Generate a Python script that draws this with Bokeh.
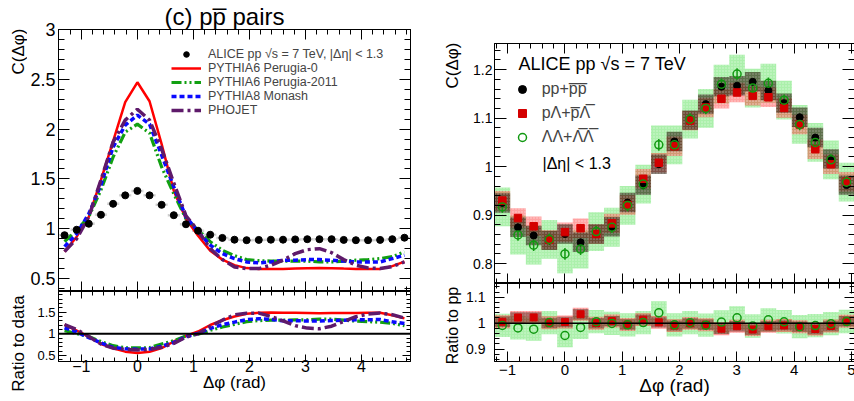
import math
from bokeh.plotting import figure
from bokeh.layouts import row, column
from bokeh.models import (Range1d, LinearAxis, Label, Legend, LegendItem, Span, Title,
                          SingleIntervalTicker, CustomJSTickFormatter)
from bokeh.embed import file_html
from bokeh.resources import INLINE

FONT = "Liberation Sans"

# ---------------- left panel: (c) p-pbar pairs, data vs models ----------------
dphi_left = [-1.300, -1.083, -0.867, -0.650, -0.433, -0.217, 0.000, 0.217, 0.433,
             0.650, 0.867, 1.083, 1.300, 1.517, 1.733, 1.950, 2.167, 2.383, 2.600,
             2.817, 3.033, 3.250, 3.467, 3.683, 3.900, 4.117, 4.333, 4.550, 4.767]
alice_data = [0.935, 0.99, 1.05, 1.14, 1.25, 1.335, 1.38, 1.335, 1.24, 1.136, 1.045,
              0.98, 0.94, 0.908, 0.89, 0.885, 0.888, 0.89, 0.89, 0.893, 0.895, 0.895,
              0.895, 0.888, 0.885, 0.885, 0.888, 0.895, 0.91]
pythia6_perugia0 = [0.77, 0.92, 1.12, 1.49, 1.88, 2.27, 2.47, 2.28, 1.85, 1.38, 1.10,
                    0.93, 0.78, 0.69, 0.635, 0.605, 0.597, 0.595, 0.597, 0.60, 0.603,
                    0.605, 0.603, 0.60, 0.597, 0.595, 0.597, 0.625, 0.67]
pythia6_perugia2011 = [0.87, 0.985, 1.12, 1.39, 1.72, 1.97, 2.05, 1.96, 1.62, 1.35, 1.10,
                       0.99, 0.87, 0.784, 0.73, 0.69, 0.68, 0.675, 0.675, 0.675, 0.675,
                       0.667, 0.667, 0.675, 0.684, 0.69, 0.70, 0.72, 0.767]
pythia8_monash = [0.82, 0.95, 1.15, 1.44, 1.82, 2.04, 2.14, 2.05, 1.74, 1.42, 1.12,
                  0.97, 0.835, 0.75, 0.70, 0.667, 0.657, 0.667, 0.684, 0.684, 0.69,
                  0.69, 0.684, 0.675, 0.667, 0.667, 0.667, 0.70, 0.734]
phojet = [0.77, 0.90, 1.12, 1.49, 1.87, 2.09, 2.20, 2.09, 1.80, 1.46, 1.13, 0.98, 0.80,
          0.69, 0.617, 0.60, 0.60, 0.634, 0.684, 0.75, 0.79, 0.80, 0.76, 0.69, 0.634,
          0.607, 0.60, 0.62, 0.667]

# ---------------- right panel: baryon-baryon pairs ----------------
dphi_right = [-1.093, -0.820, -0.546, -0.273, 0.000, 0.273, 0.546, 0.820, 1.093, 1.366,
              1.639, 1.912, 2.185, 2.459, 2.732, 3.005, 3.278, 3.551, 3.825, 4.098,
              4.371, 4.644, 4.917]
c_pp = [0.925, 0.875, 0.858, 0.848, 0.861, 0.844, 0.861, 0.876, 0.926, 0.962, 1.005,
        1.052, 1.096, 1.129, 1.165, 1.167, 1.175, 1.157, 1.131, 1.102, 1.06, 1.016, 0.962]
c_pLambda = [0.93, 0.894, 0.877, 0.849, 0.865, 0.873, 0.861, 0.883, 0.921, 0.975, 1.008,
             1.042, 1.095, 1.122, 1.14, 1.153, 1.146, 1.143, 1.121, 1.087, 1.036, 1.005, 0.969]
c_LambdaLambda = [0.917, 0.859, 0.838, 0.85, 0.82, 0.83, 0.866, 0.875, 0.92, 0.964, 1.045,
                  1.045, 1.098, 1.12, 1.17, 1.191, 1.162, 1.172, 1.137, 1.087, 1.05, 1.014, 0.968]

# uncertainties (half sizes)
stat_pp, stat_pL, stat_LL = 0.004, 0.006, 0.012
syst_pp, syst_pL, syst_LL = 0.02, 0.02, 0.04
ratio_syst_pL, ratio_syst_LL, ratio_syst_pp = 0.025, 0.045, 0.02

binw_left = 2 * math.pi / 29
binw_right = 2 * math.pi / 23

ratio_p0 = [d / m for d, m in zip(alice_data, pythia6_perugia0)]
ratio_p2011 = [d / m for d, m in zip(alice_data, pythia6_perugia2011)]
ratio_monash = [d / m for d, m in zip(alice_data, pythia8_monash)]
ratio_phojet = [d / m for d, m in zip(alice_data, phojet)]
ratio_pL = [a / b for a, b in zip(c_pLambda, c_pp)]
ratio_LL = [a / b for a, b in zip(c_LambdaLambda, c_pp)]

NUM_FMT = ("var s = String(Number(tick.toFixed(3)));"
           "return s.replace('-', '\u2212');")
TOTAL_H = 400


def make_fig(xr, yr, fw, fh, bl, br, bt, bb):
    p = figure(frame_width=fw, frame_height=fh, x_range=Range1d(*xr), y_range=Range1d(*yr),
               min_border_left=bl, min_border_right=br, min_border_top=bt,
               min_border_bottom=bb, output_backend="svg", toolbar_location=None)
    p.grid.visible = False
    p.outline_line_color = "black"
    p.outline_line_width = 1
    p.background_fill_color = "white"
    p.border_fill_color = "white"
    return p


def text_fig(w, h):
    f = figure(width=w, height=h, x_range=Range1d(0, w), y_range=Range1d(0, h),
               min_border=0, x_axis_type=None, y_axis_type=None,
               output_backend="svg", toolbar_location=None)
    f.outline_line_color = None
    f.background_fill_color = "white"
    f.border_fill_color = "white"
    return f


def style_axis(ax, interval, nminor, font_px, standoff, major_len, minor_len, show):
    ax.ticker = SingleIntervalTicker(interval=interval, num_minor_ticks=nminor)
    ax.major_tick_in = major_len
    ax.major_tick_out = 0
    ax.minor_tick_in = minor_len
    ax.minor_tick_out = 0
    ax.axis_line_color = "black"
    ax.major_tick_line_color = "black"
    ax.minor_tick_line_color = "black"
    ax.major_label_text_font = FONT
    ax.major_label_text_color = "black"
    if show:
        ax.major_label_text_font_size = f"{font_px}px"
        ax.major_label_standoff = standoff
        ax.formatter = CustomJSTickFormatter(code=NUM_FMT)
    else:
        ax.major_label_text_font_size = "0px"
        ax.major_label_standoff = 0
        ax.formatter = CustomJSTickFormatter(code="return '';")
    ax.axis_label = None


def axes(p, xint, xminor, yint, yminor, xfont, yfont, xstand, ystand,
         xmaj, xmin_, ymaj, ymin_, show_x):
    bottom = p.xaxis[0]
    style_axis(bottom, xint, xminor, xfont, xstand, xmaj, xmin_, show_x)
    style_axis(p.yaxis[0], yint, yminor, yfont, ystand, ymaj, ymin_, True)
    top = LinearAxis()
    style_axis(top, xint, xminor, 0, 0, xmaj, xmin_, False)
    p.add_layout(top, "above")
    right = LinearAxis()
    style_axis(right, yint, yminor, 0, 0, ymaj, ymin_, False)
    p.add_layout(right, "right")
    return bottom


def add_label(p, x, y, text, size, align="left", baseline="middle", angle=0.0,
              units="screen"):
    p.add_layout(Label(x=x, y=y, x_units=units, y_units=units, text=text,
                       text_font=FONT, text_font_size=size, text_align=align,
                       text_baseline=baseline, angle=angle, text_color="black"))


def x_title(ax, text, size, standoff):
    ax.axis_label = text
    ax.axis_label_text_font = FONT
    ax.axis_label_text_font_size = size
    ax.axis_label_text_font_style = "normal"
    ax.axis_label_text_color = "black"
    ax.axis_label_standoff = standoff


XL = (-1.408, 4.875)
XR = (-1.230, 5.055)

# ---------------- left top ----------------
lt = make_fig(XL, (0.37, 3.0), 352, 262, 30, 10, 29, 0)
axes(lt, 1, 5, 0.5, 5, 0, 18, 0, 3, 10, 5, 11, 6, False)
lt.add_layout(Title(text="(c) pp\u0305 pairs", align="left", offset=106,
                    vertical_align="bottom", standoff=0, text_font=FONT,
                    text_font_size="24px", text_font_style="normal",
                    text_color="black"), "above")
lt.rect(dphi_left, alice_data, width=binw_left, height=0.025, fill_color="#a8a8a8",
        fill_alpha=0.55, line_color=None, hatch_pattern=".", hatch_color="white",
        hatch_alpha=0.6, hatch_scale=3)
r_p0 = lt.line(dphi_left, pythia6_perugia0, line_color="#ff0000", line_width=2.5)
r_p11 = lt.line(dphi_left, pythia6_perugia2011, line_color="#11a011", line_width=3.2,
                line_dash="10 3 2 3 2 3")
r_mon = lt.line(dphi_left, pythia8_monash, line_color="#0a0aff", line_width=3.5,
                line_dash="5 3")
r_pho = lt.line(dphi_left, phojet, line_color="#5e1a6a", line_width=3.5,
                line_dash="12 4 3 4")
r_dat = lt.scatter(dphi_left, alice_data, size=7, color="black")
leg_l = Legend(items=[
    LegendItem(label="ALICE pp \u221as = 7 TeV, |\u0394\u03b7| < 1.3", renderers=[r_dat]),
    LegendItem(label="PYTHIA6 Perugia-0", renderers=[r_p0]),
    LegendItem(label="PYTHIA6 Perugia-2011", renderers=[r_p11]),
    LegendItem(label="PYTHIA8 Monash", renderers=[r_mon]),
    LegendItem(label="PHOJET", renderers=[r_pho]),
], location=(113, 174), border_line_color=None, background_fill_alpha=0,
    padding=0, margin=0, spacing=0, glyph_width=30, glyph_height=14, label_height=14,
    label_standoff=7, label_text_font=FONT, label_text_font_size="12.5px")
lt.add_layout(leg_l)

# ---------------- left bottom ----------------
lb = make_fig(XL, (0.36, 1.98), 352, 70, 30, 10, 0, 39)
lb_x = axes(lb, 1, 5, 0.5, 5, 16, 13, -2, 3, 7, 4, 8, 4, True)
x_title(lb_x, "\u0394\u03c6 (rad)", "17px", -2)
lb.add_layout(Span(location=1.0, dimension="width", line_color="black", line_width=2))
lb.line(dphi_left, ratio_p0, line_color="#ff0000", line_width=2.5)
lb.line(dphi_left, ratio_p2011, line_color="#11a011", line_width=3.2,
        line_dash="10 3 2 3 2 3")
lb.line(dphi_left, ratio_monash, line_color="#0a0aff", line_width=3.5, line_dash="5 3")
lb.line(dphi_left, ratio_phojet, line_color="#5e1a6a", line_width=3.5,
        line_dash="12 4 3 4")

# ---------------- text strips for the y titles ----------------
ytitle_l = text_fig(27, TOTAL_H)
add_label(ytitle_l, 17.5, TOTAL_H - 28, "C(\u0394\u03c6)", "17px", align="right",
          angle=math.pi / 2, units="data")
add_label(ytitle_l, 17.5, TOTAL_H - 343, "Ratio to data", "17px", align="center",
          angle=math.pi / 2, units="data")

ytitle_r = text_fig(43, TOTAL_H)
add_label(ytitle_r, 32, TOTAL_H - 42, "C(\u0394\u03c6)", "17px", align="right",
          angle=math.pi / 2, units="data")
add_label(ytitle_r, 32, TOTAL_H - 325, "Ratio to pp", "16px", align="center",
          angle=math.pi / 2, units="data")

# ---------------- right top ----------------
rt = make_fig(XR, (0.759, 1.254), 360, 240, 31, 1, 43, 0)
axes(rt, 1, 5, 0.1, 5, 0, 14, 0, 2, 10, 5, 12, 6, False)
box_kw = dict(line_color=None, hatch_pattern=".", hatch_color="white", hatch_alpha=0.5,
              hatch_scale=3)
rt.rect(dphi_right, c_LambdaLambda, width=binw_right, height=2 * syst_LL,
        fill_color="#44dd44", fill_alpha=0.45, **box_kw)
rt.rect(dphi_right, c_pLambda, width=binw_right, height=2 * syst_pL,
        fill_color="#ff3030", fill_alpha=0.45, **box_kw)
rt.rect(dphi_right, c_pp, width=binw_right, height=2 * syst_pp,
        fill_color="#2a1a0c", fill_alpha=0.6, line_color=None, hatch_pattern=".",
        hatch_color="white", hatch_alpha=0.3, hatch_scale=3)
rt.segment(dphi_right, [v - stat_LL for v in c_LambdaLambda], dphi_right,
           [v + stat_LL for v in c_LambdaLambda], line_color="#119911", line_width=1.5)
rt.segment(dphi_right, [v - stat_pL for v in c_pLambda], dphi_right,
           [v + stat_pL for v in c_pLambda], line_color="#cc0000", line_width=1.5)
rt.segment(dphi_right, [v - stat_pp for v in c_pp], dphi_right,
           [v + stat_pp for v in c_pp], line_color="black", line_width=1.5)
r_pp = rt.scatter(dphi_right, c_pp, size=7, color="black")
r_pL = rt.scatter(dphi_right, c_pLambda, marker="square", size=7.5, color="#d40000")
r_LL = rt.scatter(dphi_right, c_LambdaLambda, size=8, fill_color=None,
                  line_color="#119911", line_width=1.5)
leg_r = Legend(items=[
    LegendItem(label="pp+p\u0305p\u0305", renderers=[r_pp]),
    LegendItem(label="p\u039b+p\u0305\u039b\u0305", renderers=[r_pL]),
    LegendItem(label="\u039b\u039b+\u039b\u0305\u039b\u0305", renderers=[r_LL]),
], location=(17.7, 134), border_line_color=None, background_fill_alpha=0,
    padding=0, margin=0, spacing=0, glyph_width=20, glyph_height=24, label_height=24,
    label_standoff=10, label_text_font=FONT, label_text_font_size="16px")
rt.add_layout(leg_r)
add_label(rt, 24, 220, "ALICE pp \u221as = 7 TeV", "18px")
add_label(rt, 48, 120, "|\u0394\u03b7| < 1.3", "16px")

# ---------------- right bottom ----------------
rb = make_fig(XR, (0.852, 1.153), 360, 78, 31, 1, 0, 39)
rb_x = axes(rb, 1, 5, 0.1, 5, 15, 14, 3, 9, 10, 5, 10, 5, True)
x_title(rb_x, "\u0394\u03c6 (rad)", "19px", -3)
rb.rect(dphi_right, ratio_LL, width=binw_right, height=2 * ratio_syst_LL,
        fill_color="#44dd44", fill_alpha=0.45, **box_kw)
rb.rect(dphi_right, ratio_pL, width=binw_right, height=2 * ratio_syst_pL,
        fill_color="#ff3030", fill_alpha=0.5, **box_kw)
rb.rect(dphi_right, ratio_pL, width=binw_right, height=2 * ratio_syst_pp,
        fill_color="#2a1a0c", fill_alpha=0.4, line_color=None)
rb.add_layout(Span(location=1.0, dimension="width", line_color="black", line_width=1.5))
rb.scatter(dphi_right, ratio_pL, marker="square", size=7, color="#d40000")
rb.scatter(dphi_right, ratio_LL, size=8, fill_color=None, line_color="#119911",
           line_width=1.5)

layout = row(ytitle_l, column(lt, lb), ytitle_r, column(rt, rb))
open("out.html", "w").write(file_html(layout, INLINE))
